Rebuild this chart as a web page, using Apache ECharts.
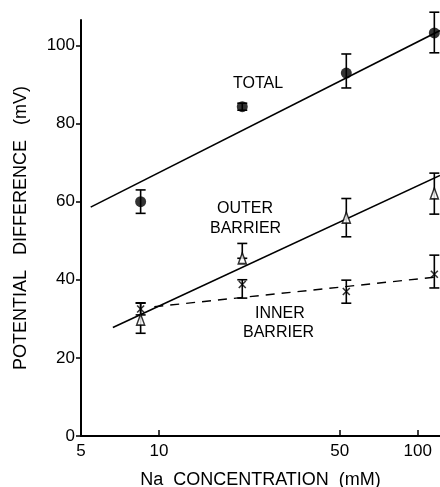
<!DOCTYPE html>
<html>
<head>
<meta charset="utf-8">
<title>Na concentration vs potential difference</title>
<script src="https://cdn.jsdelivr.net/npm/echarts@6/dist/echarts.min.js"></script>
<style>
html, body { margin: 0; padding: 0; background: #fff; }
#main { width: 440px; height: 487px; }
</style>
</head>
<body>
<div id="main"></div>
<script type="text/javascript">
	// axis ticks
	var xTicks = [5, 10, 50, 100];
	var yTicks = [0, 20, 40, 60, 80, 100];
	// Na concentration (mM) of the measured points
	var conc = [8.5, 21, 53, 116];
	// total
	var totalPd = [60, 84.3, 92.9, 103.2];
	var totalLow = [57, 83.4, 89.1, 98.1];
	var totalHigh = [63, 85.2, 97.8, 108.5];
	// outer barrier
	var outerPd = [29.8, 45.5, 55.9, 62.1];
	var outerLow = [26.3, 45.5, 51, 56.8];
	var outerHigh = [34.1, 49.3, 60.8, 67.3];
	// inner barrier
	var innerPd = [32.5, 38.8, 37, 41.4];
	var innerLow = [31, 35.3, 34, 37.9];
	var innerHigh = [34, 40, 39.9, 46.3];
	// fitted lines (end points)
	var totalFitX = [5.45, 122];
	var totalFitY = [58.6, 103.8];
	var outerFitX = [6.64, 122];
	var outerFitY = [27.8, 66.7];
	var innerFitX = [9.6, 122];
	var innerFitY = [33.1, 40.8];

	function pairs(xs, ys) {
		var out = [];
		for (var i = 0; i < xs.length; i++) {
			out.push([xs[i], ys[i]]);
		}
		return out;
	}
	function bars(xs, lo, hi) {
		var out = [];
		for (var i = 0; i < xs.length; i++) {
			out.push([xs[i], lo[i], hi[i]]);
		}
		return out;
	}
	// error bar drawn through the axis scales
	function errorBar(params, api) {
		var top = api.coord([api.value(0), api.value(2)]);
		var bot = api.coord([api.value(0), api.value(1)]);
		var w = 5;
		var st = { stroke: '#000', lineWidth: 1.6 };
		return {
			type: 'group',
			children: [
				{ type: 'line', shape: { x1: top[0], y1: top[1], x2: bot[0], y2: bot[1] }, style: st },
				{ type: 'line', shape: { x1: top[0] - w, y1: top[1], x2: top[0] + w, y2: top[1] }, style: st },
				{ type: 'line', shape: { x1: bot[0] - w, y1: bot[1], x2: bot[0] + w, y2: bot[1] }, style: st }
			]
		};
	}

	var font = 'Liberation Sans, Arial, sans-serif';
	var chart = echarts.init(document.getElementById('main'));
	var option = {
		animation: false,
		backgroundColor: '#fff',
		grid: { left: 81, right: 0, top: 20, bottom: 51, outerBoundsMode: 'none' },
		xAxis: {
			type: 'log',
			logBase: 10,
			min: 5,
			max: 122,
			name: 'Na  CONCENTRATION  (mM)',
			nameLocation: 'middle',
			nameGap: 35,
			nameTextStyle: { color: '#000', fontSize: 18, fontFamily: font },
			axisLine: { lineStyle: { color: '#000', width: 2 } },
			axisTick: { inside: true, length: 6, lineStyle: { color: '#000', width: 1.5 }, customValues: xTicks },
			axisLabel: {
				color: '#000', fontSize: 17, fontFamily: font, margin: 7,
				customValues: xTicks,
				formatter: function (v) { return String(Math.round(v)); }
			},
			minorTick: { show: false },
			splitLine: { show: false }
		},
		yAxis: {
			type: 'value',
			min: 0,
			max: 106.5,
			name: 'POTENTIAL   DIFFERENCE   (mV)',
			nameLocation: 'middle',
			nameGap: 51,
			nameTextStyle: { color: '#000', fontSize: 18, fontFamily: font },
			axisLine: { show: true, lineStyle: { color: '#000', width: 2 } },
			axisTick: { show: true, length: 5, lineStyle: { color: '#000', width: 1.5 }, customValues: yTicks },
			axisLabel: { color: '#000', fontSize: 17, fontFamily: font, margin: 6, customValues: yTicks },
			splitLine: { show: false }
		},
		series: [
			{
				type: 'line', data: pairs(totalFitX, totalFitY), symbol: 'none',
				lineStyle: { color: '#000', width: 1.6 }
			},
			{
				type: 'line', data: pairs(outerFitX, outerFitY), symbol: 'none',
				lineStyle: { color: '#000', width: 1.6 }
			},
			{
				type: 'line', data: pairs(innerFitX, innerFitY), symbol: 'none',
				lineStyle: { color: '#000', width: 1.4, type: [9, 7] }
			},
			{ type: 'custom', renderItem: errorBar, data: bars(conc, totalLow, totalHigh), z: 3 },
			{ type: 'custom', renderItem: errorBar, data: bars(conc, outerLow, outerHigh), z: 3 },
			{ type: 'custom', renderItem: errorBar, data: bars(conc, innerLow, innerHigh), z: 3 },
			{
				type: 'scatter', data: pairs(conc, totalPd), symbol: 'circle', symbolSize: 11,
				itemStyle: { color: '#000' }, z: 4
			},
			{
				type: 'scatter', data: pairs(conc, outerPd), symbol: 'triangle', symbolSize: [8, 11],
				itemStyle: { color: '#fff', borderColor: '#000', borderWidth: 1.6 }, z: 4
			},
			{
				type: 'scatter', data: pairs(conc, innerPd), symbol: 'path://M0,0L10,10M10,0L0,10', symbolSize: 7,
				itemStyle: { color: 'none', borderColor: '#000', borderWidth: 1.6 }, z: 4
			}
		],
		graphic: [
			{ type: 'text', left: 233, top: 76, style: { text: 'TOTAL', fill: '#000', font: '16px ' + font } },
			{ type: 'text', left: 217, top: 201, style: { text: 'OUTER', fill: '#000', font: '16px ' + font } },
			{ type: 'text', left: 210, top: 221, style: { text: 'BARRIER', fill: '#000', font: '16px ' + font } },
			{ type: 'text', left: 255, top: 306, style: { text: 'INNER', fill: '#000', font: '16px ' + font } },
			{ type: 'text', left: 243, top: 325, style: { text: 'BARRIER', fill: '#000', font: '16px ' + font } }
		]
	};
	chart.setOption(option);
</script>
</body>
</html>
